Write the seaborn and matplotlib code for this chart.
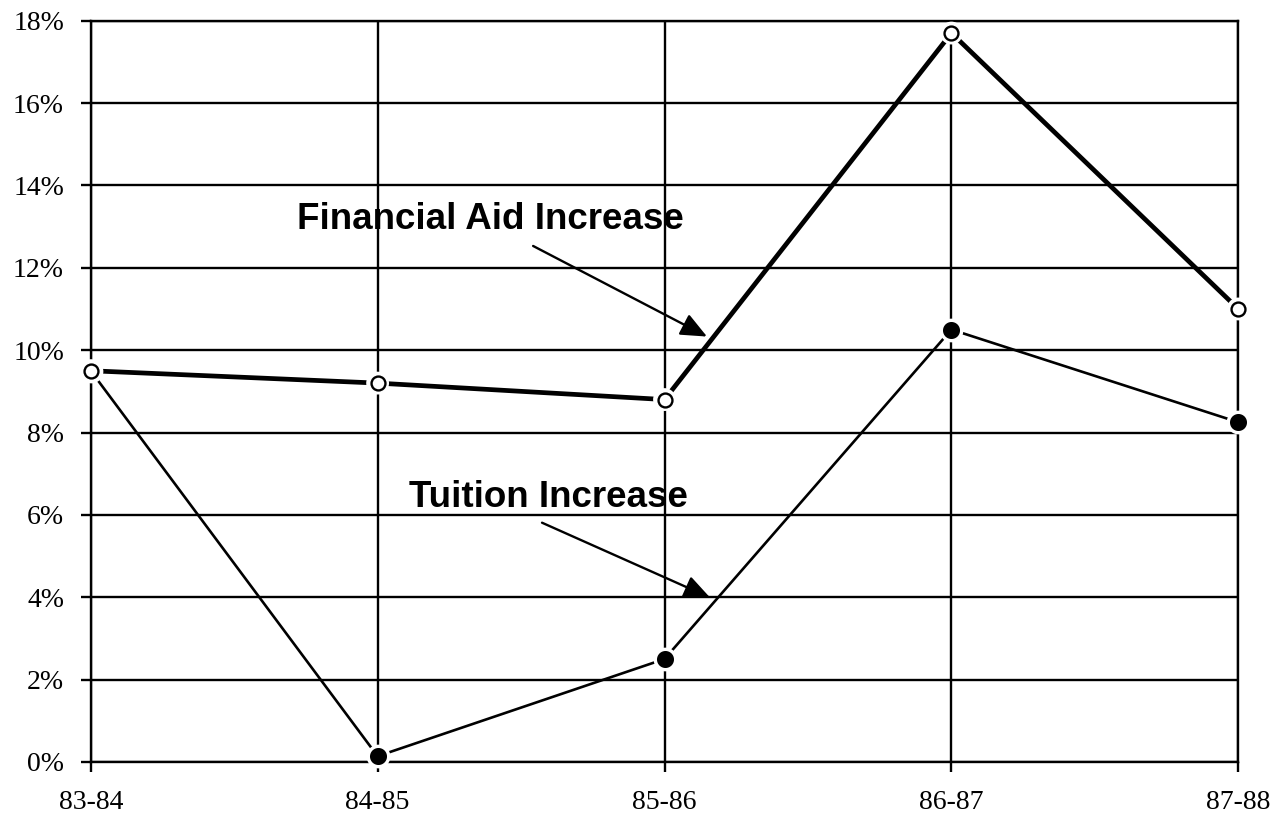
import matplotlib
matplotlib.use("Agg")
import matplotlib.pyplot as plt
import seaborn as sns
import pandas as pd
from matplotlib.ticker import FuncFormatter

years = ["83-84", "84-85", "85-86", "86-87", "87-88"]
financial_aid = [9.5, 9.2, 8.8, 17.7, 11.0]
tuition = [9.5, 0.14, 2.5, 10.5, 8.25]
y_ticks = [0, 2, 4, 6, 8, 10, 12, 14, 16, 18]

df = pd.DataFrame({"year": years, "aid": financial_aid, "tuition": tuition})

sns.set_theme(style="white")
plt.rcParams["font.family"] = ["Liberation Serif", "DejaVu Serif"]

fig = plt.figure(figsize=(12.74, 8.18), dpi=100)
ax = fig.add_axes([0.0712, 0.0685, 0.972 - 0.0712, 0.9747 - 0.0685])

sns.lineplot(data=df, x="year", y="tuition", ax=ax, color="black", lw=1.9, zorder=3, sort=False)
sns.lineplot(data=df, x="year", y="aid", ax=ax, color="black", lw=3.4, zorder=3, sort=False)

# tuition markers: filled black with white halo
sns.scatterplot(data=df, x="year", y="tuition", ax=ax, s=215, color="black",
                edgecolor="white", linewidth=2.4, zorder=5, clip_on=False)
# aid markers: open circles with white halo
sns.scatterplot(data=df, x="year", y="aid", ax=ax, s=270, color="white",
                edgecolor="none", linewidth=0, zorder=6, clip_on=False)
sns.scatterplot(data=df, x="year", y="aid", ax=ax, s=100, color="white",
                edgecolor="black", linewidth=1.7, zorder=7, clip_on=False)

ax.set_xlim(0, 4)
ax.set_ylim(0, 18)
ax.set_yticks(y_ticks)
ax.yaxis.set_major_formatter(FuncFormatter(lambda v, p: f"{v:.0f}%"))
ax.set_xlabel("")
ax.set_ylabel("")

ax.grid(True, color="black", lw=1.7)
ax.set_axisbelow(True)
for s in ax.spines.values():
    s.set_visible(True)
    s.set_color("black")
    s.set_linewidth(1.7)
ax.tick_params(axis="both", which="both", length=7.2, width=1.7, color="black",
               direction="out", labelsize=20, labelcolor="black")
ax.tick_params(axis="y", pad=12)
ax.tick_params(axis="x", pad=13)
ax.tick_params(left=True, bottom=True)

bold = dict(family=["Liberation Sans", "DejaVu Sans"], fontsize=26.5, fontweight="bold",
            color="black", ha="center", va="baseline")
ax.text(1.394, 12.94, "Financial Aid Increase", zorder=8, **bold)
ax.text(1.597, 6.20, "Tuition Increase", zorder=8, **bold)

arrow = dict(arrowstyle="-|>,head_length=0.8,head_width=0.35", lw=1.7, color="black",
             shrinkA=0, shrinkB=0, mutation_scale=20)
ax.annotate("", xy=(2.148, 10.33), xytext=(1.542, 12.53), arrowprops=arrow, zorder=8)
ax.annotate("", xy=(2.159, 3.99), xytext=(1.573, 5.81), arrowprops=arrow, zorder=8)

fig.savefig("out.png", dpi=100)
